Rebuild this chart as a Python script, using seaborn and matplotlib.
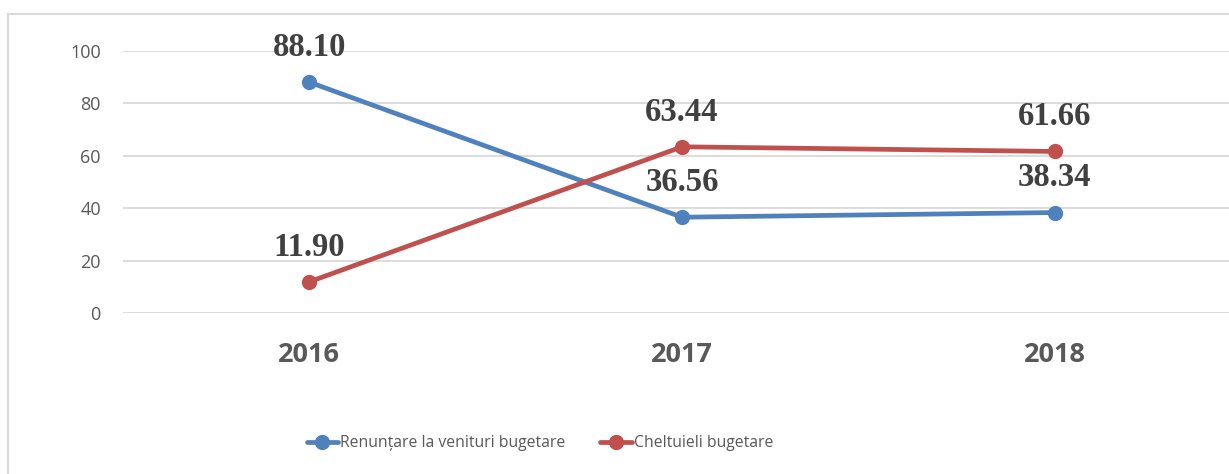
import pandas as pd
import matplotlib.pyplot as plt
import seaborn as sns
from matplotlib.patches import Rectangle
from matplotlib.lines import Line2D

# chart data
years = ["2016", "2017", "2018"]
renuntare = [88.10, 36.56, 38.34]
cheltuieli = [11.90, 63.44, 61.66]
series_names = ["Renunțare la venituri bugetare", "Cheltuieli bugetare"]
colors = ["#4F81BD", "#C0504D"]

df = pd.DataFrame({
    "an": years * 2,
    "valoare": renuntare + cheltuieli,
    "serie": [series_names[0]] * 3 + [series_names[1]] * 3,
})

sns.set_style("white")
plt.rcParams["font.family"] = ["Open Sans", "DejaVu Sans"]

fig = plt.figure(figsize=(12.29, 4.74), dpi=100)
# chart frame (right and bottom edges fall outside the picture)
fig.patches.append(Rectangle((8 / 1229, -0.1), 1.2, (474 - 14) / 474 + 0.1,
                             transform=fig.transFigure, fill=False,
                             edgecolor="#D9D9D9", linewidth=1.5))

ax = fig.add_axes([123 / 1229, 161 / 474, 1118 / 1229, 262 / 474])
sns.lineplot(data=df, x="an", y="valoare", hue="serie", palette=colors,
             marker="o", markersize=11, markeredgewidth=0, linewidth=3.4,
             ax=ax, legend=False, clip_on=False)

ax.set_xlim(-0.5, 2.5)
ax.set_ylim(0, 100)
ax.set_yticks([0, 20, 40, 60, 80, 100])
ax.grid(axis="y", color="#D9D9D9", linewidth=1.3)
ax.grid(axis="x", visible=False)
for s in ax.spines.values():
    s.set_visible(False)
ax.tick_params(axis="y", length=0, pad=16, labelsize=13, labelcolor="#595959")
ax.tick_params(axis="x", length=0, pad=21, labelsize=19.5, labelcolor="#595959")
for lab in ax.get_xticklabels():
    lab.set_fontweight("bold")
ax.set_xlabel("")
ax.set_ylabel("")

# data labels
for vals in (renuntare, cheltuieli):
    for i, v in enumerate(vals):
        ax.annotate(f"{v:.2f}", (i, v), xytext=(0, 25), textcoords="offset points",
                    ha="center", va="center", fontsize=23.5, fontweight="bold",
                    family="Liberation Serif", color="#404040")

handles = [Line2D([], [], color=c, linewidth=3.4, marker="o", markersize=11,
                  markeredgewidth=0) for c in colors]
fig.legend(handles, series_names, loc="center", bbox_to_anchor=(540 / 1229, 1 - 443 / 474),
           ncol=2, frameon=False, fontsize=11.3, labelcolor="#595959",
           handlelength=2.0, handletextpad=0.15, columnspacing=2.2)

fig.savefig("out.png", dpi=100)
